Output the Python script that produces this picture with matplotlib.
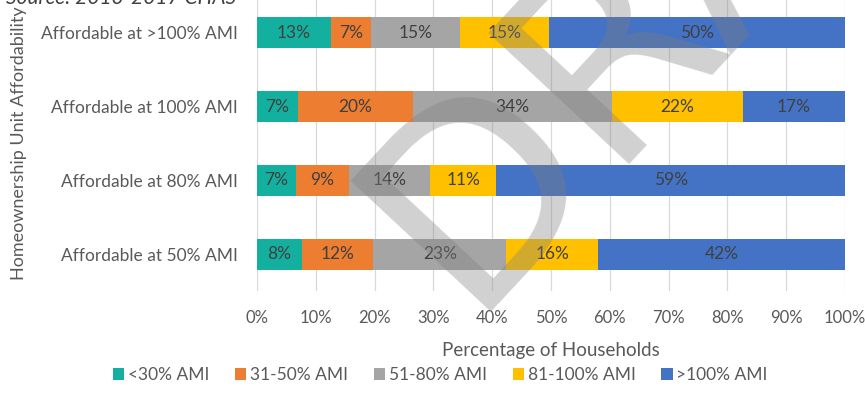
import matplotlib
matplotlib.use("Agg")
import matplotlib.pyplot as plt
import numpy as np

categories = ["Affordable at >100% AMI", "Affordable at 100% AMI",
              "Affordable at 80% AMI", "Affordable at 50% AMI"]
series_names = ["<30% AMI", "31-50% AMI", "51-80% AMI", "81-100% AMI", ">100% AMI"]
lt30 = [12.6, 6.9, 6.6, 7.6]
p31_50 = [6.8, 19.7, 9.0, 12.2]
p51_80 = [15.1, 33.8, 13.8, 22.6]
p81_100 = [15.2, 22.2, 11.3, 15.6]
gt100 = [50.3, 17.4, 59.3, 42.0]
xticks = [0, 10, 20, 30, 40, 50, 60, 70, 80, 90, 100]

colors = ["#13B09F", "#ED7D31", "#A5A5A5", "#FFC000", "#4472C4"]
txt = "#595959"
plt.rcParams['font.family'] = ['Lato', 'DejaVu Sans']

fig = plt.figure(figsize=(8.65, 4.11), dpi=100)
W, H = 865, 411
ax = fig.add_axes([257 / W, 1 - 291 / H, (845 - 257) / W, 295 / H])

series = [lt30, p31_50, p51_80, p81_100, gt100]
y = np.arange(len(categories))
left = np.zeros(len(categories))
for name, vals, c in zip(series_names, series, colors):
    vals = np.array(vals)
    bars = ax.barh(y, vals, left=left, height=0.42, color=c, label=name, zorder=3)
    ax.bar_label(bars, labels=[f"{v:.0f}%" for v in vals], label_type='center',
                 color="#404040", fontsize=12.5)
    left += vals

ax.set_ylim(len(categories) - 0.5, -0.5)
ax.set_xlim(0, 100)
ax.set_xticks(xticks)
ax.set_xticklabels([f"{t}%" for t in xticks], fontsize=12, color=txt)
ax.set_yticks(y)
ax.set_yticklabels(categories, fontsize=12.5, color=txt)
ax.tick_params(axis='y', length=0, pad=14)
ax.tick_params(axis='x', length=0, pad=14)
ax.grid(axis='x', color="#D9D9D9", lw=0.9, zorder=0)
ax.set_axisbelow(True)
for s in ax.spines.values():
    s.set_visible(False)

ax.set_xlabel("Percentage of Households", fontsize=13.5, color=txt, labelpad=11)
fig.text(19 / W, 1 - 143 / H, "Homeownership Unit Affordability", rotation=90,
         ha='center', va='center', fontsize=13, color=txt)

fig.text(6 / W, 1 - 4 / H, "Source: 2013-2017 CHAS", fontsize=15, style='italic',
         color="#404040", ha='left', va='baseline')

fig.legend(loc='center', bbox_to_anchor=(0.509, 1 - 375 / H), ncol=5, frameon=False,
           fontsize=12.5, handlelength=0.65, handleheight=0.65, handletextpad=0.2,
           columnspacing=1.5, labelcolor=txt)

fig.text(465 / W, 1 - 312 / H, "DRAFT", rotation=47, rotation_mode='anchor',
         ha='left', va='baseline', fontsize=190, color="#808080", alpha=0.36,
         family='DejaVu Sans', zorder=10)

fig.savefig("out.png", dpi=100)
